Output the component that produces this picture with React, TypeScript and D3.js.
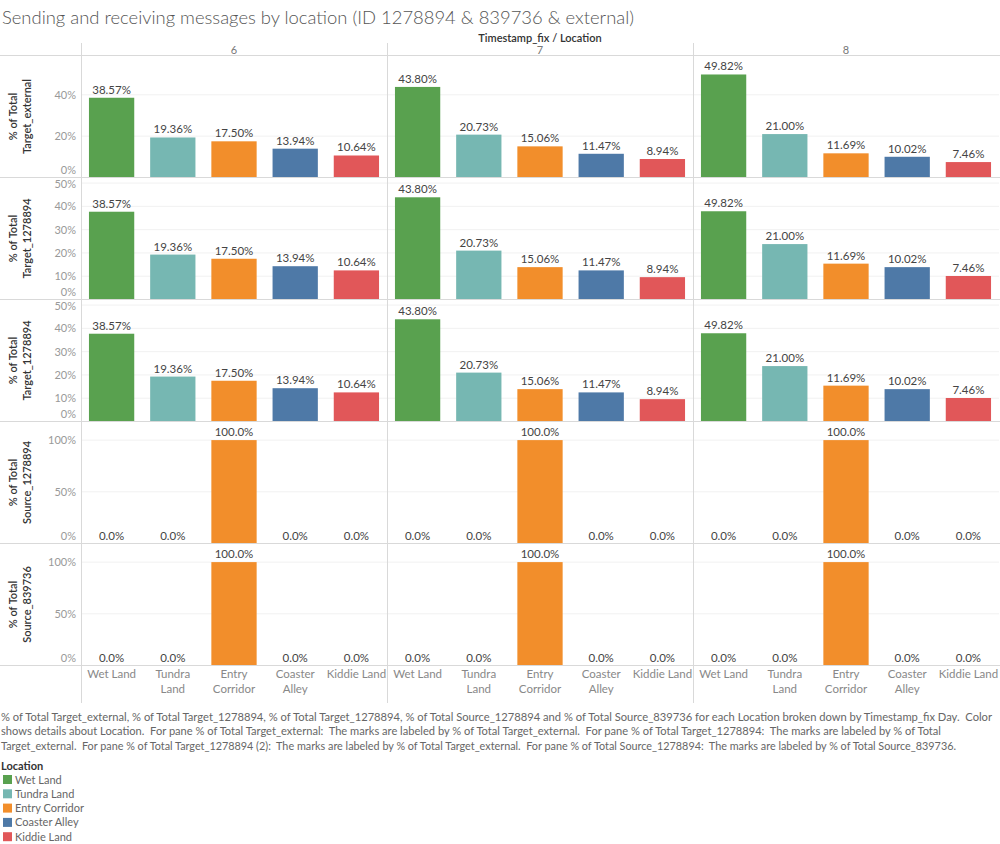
import React from "react";
import * as d3 from "d3";

const title = "Sending and receiving messages by location (ID 1278894 & 839736 & external)";
const columnHeader = "Timestamp_fix / Location";
const days = ["6", "7", "8"];
const locations = ["Wet Land", "Tundra Land", "Entry Corridor", "Coaster Alley", "Kiddie Land"];
const locationLines = [["Wet Land"], ["Tundra", "Land"], ["Entry", "Corridor"], ["Coaster", "Alley"], ["Kiddie Land"]];
const colors = ["#59A14F", "#76B7B2", "#F28E2B", "#4E79A7", "#E15759"];

// % of Total Target_external (per day, per location)
const targetExternal = [
  [38.57, 19.36, 17.5, 13.94, 10.64],
  [43.8, 20.73, 15.06, 11.47, 8.94],
  [49.82, 21.0, 11.69, 10.02, 7.46],
];
// % of Total Target_1278894 (bar heights, estimated)
const target1278894 = [
  [37.7, 19.3, 17.5, 14.3, 12.5],
  [43.9, 21.0, 13.9, 12.5, 9.6],
  [37.9, 23.8, 15.4, 13.9, 10.1],
];
// % of Total Source_1278894
const source1278894 = [
  [0, 0, 100, 0, 0],
  [0, 0, 100, 0, 0],
  [0, 0, 100, 0, 0],
];
// % of Total Source_839736
const source839736 = [
  [0, 0, 100, 0, 0],
  [0, 0, 100, 0, 0],
  [0, 0, 100, 0, 0],
];

const rowTitles = [
  ["% of Total", "Target_external"],
  ["% of Total", "Target_1278894"],
  ["% of Total", "Target_1278894"],
  ["% of Total", "Source_1278894"],
  ["% of Total", "Source_839736"],
];
const rowTicks = [[0, 20, 40], [0, 10, 20, 30, 40, 50], [0, 10, 20, 30, 40, 50], [0, 50, 100], [0, 50, 100]];
const rowMax = [59, 52.4, 52.4, 118, 118];
const rowBars = [targetExternal, target1278894, target1278894, source1278894, source839736];
const rowLabels = [targetExternal, targetExternal, targetExternal, source839736, source839736];
const rowLabelDigits = [2, 2, 2, 1, 1];

const captionLines = [
  "% of Total Target_external, % of Total Target_1278894, % of Total Target_1278894, % of Total Source_1278894 and % of Total Source_839736 for each Location broken down by Timestamp_fix Day.  Color",
  "shows details about Location.  For pane % of Total Target_external:  The marks are labeled by % of Total Target_external.  For pane % of Total Target_1278894:  The marks are labeled by % of Total",
  "Target_external.  For pane % of Total Target_1278894 (2):  The marks are labeled by % of Total Target_external.  For pane % of Total Source_1278894:  The marks are labeled by % of Total Source_839736.",
];
const captionWidths = [991, 940, 955];
const legendTitle = "Location";

const W = 1000;
const H = 844;
const FONT = "Lato, 'Noto Sans', sans-serif";

export default function App() {
  const colX = d3.scaleBand<string>().domain(days).range([81, 999]).paddingInner(0).paddingOuter(0);
  const rowY = d3.scaleBand<number>().domain([0, 1, 2, 3, 4]).range([55.5, 665.5]);
  const colW = colX.bandwidth();
  const band = d3.scaleBand<string>().domain(locations).range([0, colW]).paddingInner(0.26).paddingOuter(0.13);

  return (
    <svg width={W} height={H} style={{ position: "absolute", left: 0, top: 0, background: "#fff" }} fontFamily={FONT}>
      <text x={2} y={24} fontSize={18} fill="#555" fontWeight={300} textLength={632} lengthAdjust="spacingAndGlyphs">{title}</text>
      <text x={540} y={42} fontSize={11} fill="#333" fontWeight={600} textAnchor="middle">{columnHeader}</text>
      {days.map((d) => (
        <text key={d} x={(colX(d) as number) + colW / 2} y={54} fontSize={11} fill="#777" textAnchor="middle">{d}</text>
      ))}

      {rowBars.map((data, r) => {
        const top = rowY(r) as number;
        const bottom = top + rowY.bandwidth();
        const y = d3.scaleLinear().domain([0, rowMax[r]]).range([bottom, top]);
        return (
          <g key={r}>
            {rowTicks[r].filter((t) => t > 0).map((t) => (
              <line key={t} x1={81} x2={999} y1={y(t)} y2={y(t)} stroke="#f1f1f1" strokeWidth={1} />
            ))}
            {rowTicks[r].map((t) => {
              const ty = Math.max(top + 7, Math.min(bottom - 7, y(t)));
              return (
                <text key={t} x={76} y={ty} dy="0.35em" fontSize={11} fill="#999" textAnchor="end">{t + "%"}</text>
              );
            })}
            <text transform={`translate(17,${(top + bottom) / 2}) rotate(-90)`} fontSize={11} fill="#333" fontWeight={600} textAnchor="middle">{rowTitles[r][0]}</text>
            <text transform={`translate(31,${(top + bottom) / 2}) rotate(-90)`} fontSize={11} fill="#333" fontWeight={600} textAnchor="middle">{rowTitles[r][1]}</text>
            {days.map((d, di) => {
              const cx = colX(d) as number;
              return (
                <g key={d}>
                  {locations.map((loc, li) => {
                    const v = data[di][li];
                    const x0 = cx + (band(loc) as number);
                    const lv = rowLabels[r][di][li];
                    const labelY = Math.min(y(v) - 4, bottom - 3);
                    return (
                      <g key={loc}>
                        {v > 0 && (
                          <rect x={x0} y={y(v)} width={band.bandwidth()} height={bottom - y(v)} fill={colors[li]} />
                        )}
                        <text x={x0 + band.bandwidth() / 2} y={labelY} fontSize={11.5} fill="#444" textAnchor="middle">{lv.toFixed(rowLabelDigits[r]) + "%"}</text>
                      </g>
                    );
                  })}
                </g>
              );
            })}
          </g>
        );
      })}

      {[0, 1, 2, 3, 4].map((r) => (
        <line key={r} x1={0} x2={W} y1={(rowY(r) as number) + rowY.bandwidth()} y2={(rowY(r) as number) + rowY.bandwidth()} stroke="#d9d9d9" />
      ))}
      <line x1={0} x2={W} y1={55.5} y2={55.5} stroke="#d9d9d9" />
      {days.map((d) => (
        <line key={d} x1={(colX(d) as number) + 0.5} x2={(colX(d) as number) + 0.5} y1={43} y2={703} stroke="#d9d9d9" />
      ))}

      {days.map((d) => (
        <g key={d}>
          {locations.map((loc, li) => (
            <text key={loc} x={(colX(d) as number) + (band(loc) as number) + band.bandwidth() / 2} y={678} fontSize={11.5} fill="#888" textAnchor="middle">
              {locationLines[li].map((ln, k) => (
                <tspan key={k} x={(colX(d) as number) + (band(loc) as number) + band.bandwidth() / 2} dy={k === 0 ? 0 : 14.5}>{ln}</tspan>
              ))}
            </text>
          ))}
        </g>
      ))}

      {captionLines.map((ln, i) => (
        <text key={i} x={1} y={721 + i * 14.3} fontSize={10.5} fill="#666" textLength={captionWidths[i]} lengthAdjust="spacingAndGlyphs" style={{ whiteSpace: "pre" }}>{ln}</text>
      ))}

      <text x={1} y={770} fontSize={11} fill="#333" fontWeight={700}>{legendTitle}</text>
      {locations.map((loc, i) => (
        <g key={loc}>
          <rect x={3} y={775 + i * 14.3} width={9} height={9} fill={colors[i]} />
          <text x={15} y={783.5 + i * 14.3} fontSize={11} fill="#666">{loc}</text>
        </g>
      ))}
    </svg>
  );
}
